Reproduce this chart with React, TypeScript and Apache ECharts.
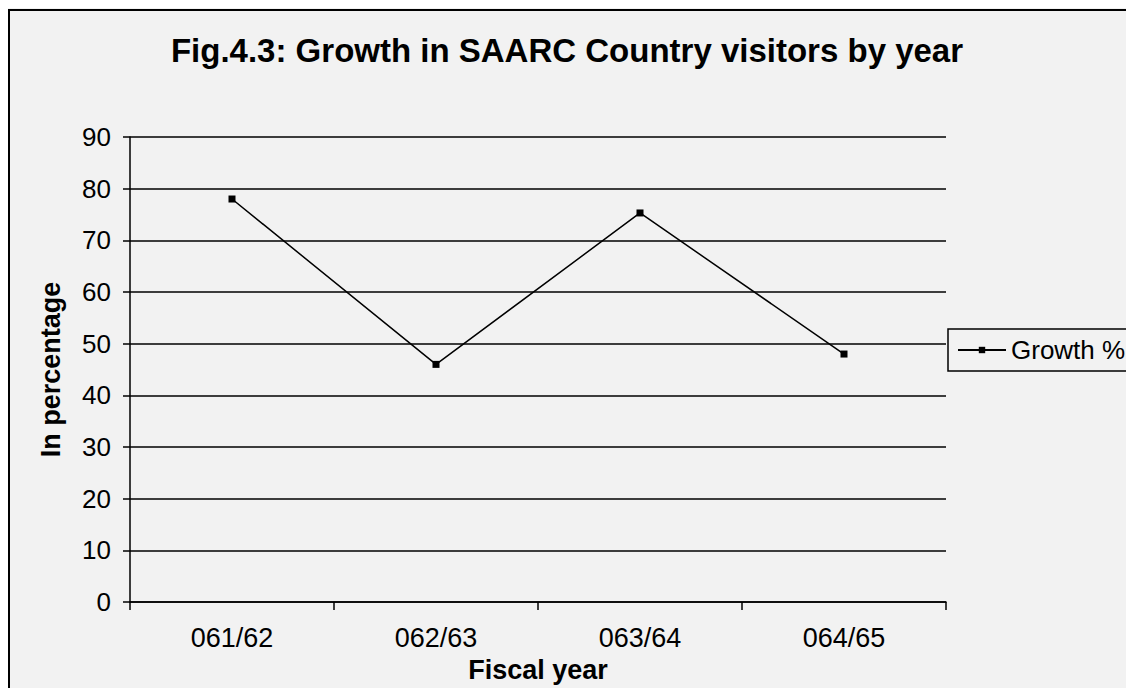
import React, { useEffect, useRef } from "react";
import * as echarts from "echarts";

// Fiscal years on the category axis
const fiscalYears: string[] = ["061/62", "062/63", "063/64", "064/65"];
// Growth in SAARC country visitors, percent
const growthPct: number[] = [78, 46, 75.3, 48];
// Value axis range
const yMin = 0;
const yMax = 90;
const yStep = 10;

const FONT = "'Liberation Sans', Arial, sans-serif";

export default function App() {
  const ref = useRef<HTMLDivElement | null>(null);

  useEffect(() => {
    if (!ref.current) return;
    const chart = echarts.init(ref.current, undefined, { renderer: "svg" });
    chart.setOption({
      animation: false,
      backgroundColor: "#f2f2f2",
      textStyle: { fontFamily: FONT, color: "#000" },
      title: {
        text: "Fig.4.3: Growth in SAARC Country visitors by year",
        left: "center",
        top: 21,
        textStyle: { fontFamily: FONT, fontSize: 33, fontWeight: "bold", color: "#000" },
      },
      graphic: [
        { type: "rect", shape: { x: 0, y: 1, width: 1130, height: 2 }, style: { fill: "#000" } },
        { type: "rect", shape: { x: 0, y: 1, width: 2, height: 680 }, style: { fill: "#000" } },
      ],
      legend: {
        left: 940,
        top: 321,
        orient: "vertical",
        backgroundColor: "#f2f2f2",
        borderColor: "#000",
        borderWidth: 1.5,
        padding: [8, 20, 8, 9],
        itemWidth: 48,
        itemHeight: 8,
        itemGap: 6,
        textStyle: { fontFamily: FONT, fontSize: 26, color: "#000" },
        data: ["Growth %"],
      },
      grid: { left: 122, top: 129, right: 180, bottom: 83, containLabel: false },
      xAxis: {
        type: "category",
        data: fiscalYears,
        boundaryGap: true,
        name: "Fiscal year",
        nameLocation: "middle",
        nameGap: 50,
        nameTextStyle: { fontFamily: FONT, fontSize: 27, fontWeight: "bold", color: "#000" },
        axisLine: { lineStyle: { color: "#000", width: 1.5 } },
        axisTick: { show: true, inside: false, length: 8, alignWithLabel: false, lineStyle: { color: "#000", width: 1.5 } },
        axisLabel: { fontFamily: FONT, fontSize: 27, color: "#000", margin: 22 },
        splitLine: { show: false },
      },
      yAxis: {
        type: "value",
        min: yMin,
        max: yMax,
        interval: yStep,
        name: "In percentage",
        nameLocation: "middle",
        nameGap: 66,
        nameTextStyle: { fontFamily: FONT, fontSize: 27, fontWeight: "bold", color: "#000" },
        axisLine: { show: true, lineStyle: { color: "#000", width: 1.5 } },
        axisTick: { show: true, inside: false, length: 7, lineStyle: { color: "#000", width: 1.5 } },
        axisLabel: { fontFamily: FONT, fontSize: 26, color: "#000", margin: 19 },
        splitLine: { show: true, lineStyle: { color: "#000", width: 1.5 } },
      },
      series: [
        {
          name: "Growth %",
          type: "line",
          data: growthPct,
          symbol: "rect",
          symbolSize: 7,
          showSymbol: true,
          itemStyle: { color: "#000" },
          lineStyle: { color: "#000", width: 1.5 },
        },
      ],
    });
    return () => chart.dispose();
  }, []);

  // Fixed positioning keeps the page free of scrollbars
  return (
    <div
      ref={ref}
      style={{ position: "fixed", left: 8, top: 8, width: 1118, height: 680 }}
    />
  );
}
